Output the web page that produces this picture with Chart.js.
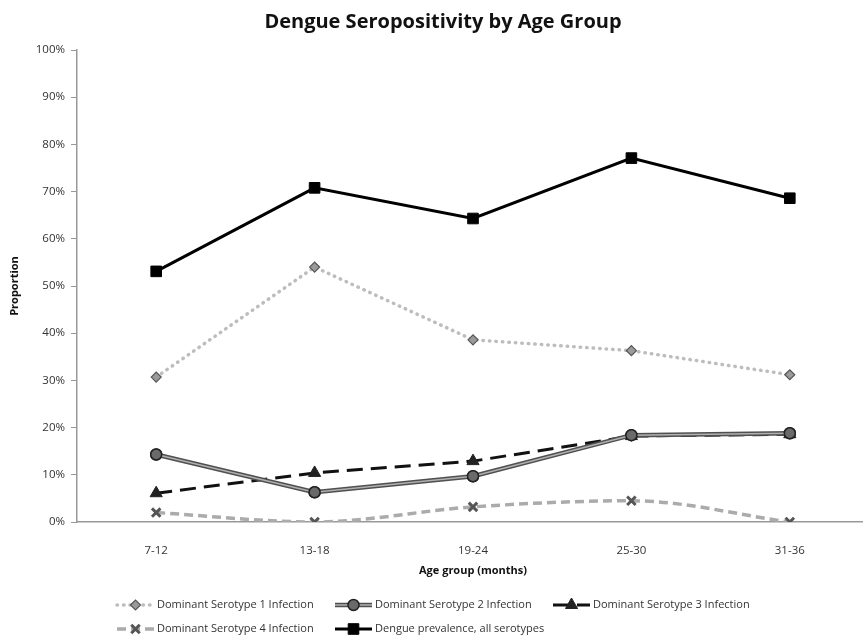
<!DOCTYPE html>
<html>
<head>
<meta charset="utf-8">
<script src="https://cdn.jsdelivr.net/npm/chart.js@4"></script>
<style>
    body { margin: 0; overflow: hidden; background: #fff; }
    #divChartDengue { position: absolute; left: 0; top: 0; width: 878px; height: 639px; }
</style>
</head>
<body>
<div id="divChartDengue"><canvas id="chartDengue"></canvas></div>
<script>
var ageGroups = ['7-12', '13-18', '19-24', '25-30', '31-36'];
var serotype1 = [30.7, 54.0, 38.6, 36.3, 31.2];
var serotype2 = [14.3, 6.3, 9.7, 18.4, 18.8];
var serotype3 = [6.1, 10.4, 12.9, 18.2, 18.6];
var serotype4 = [2.0, 0, 3.2, 4.5, 0];
var prevalence = [53.1, 70.8, 64.3, 77.1, 68.6];
var yTicks = [0, 10, 20, 30, 40, 50, 60, 70, 80, 90, 100];

var fontName = "'Open Sans', sans-serif";

// draws the lighter stripe inside a line (excel "double" line look)
function strokeInner(ctx, pts, color, width) {
    ctx.save();
    ctx.strokeStyle = color;
    ctx.lineWidth = width;
    ctx.setLineDash([]);
    ctx.beginPath();
    for (var i = 0; i < pts.length; i++) {
        if (i == 0) ctx.moveTo(pts[i].x, pts[i].y);
        else ctx.lineTo(pts[i].x, pts[i].y);
    }
    ctx.stroke();
    ctx.restore();
}

var doubleLinePlugin = {
    id: 'doubleLine',
    afterDatasetDraw: function(chart, args) {
        var ds = chart.data.datasets[args.index];
        if (!ds.innerColor) return;
        var meta = chart.getDatasetMeta(args.index);
        strokeInner(chart.ctx, meta.data, ds.innerColor, ds.innerWidth);
        meta.data.forEach(function(p) { p.draw(chart.ctx, chart.chartArea); });
    }
};

// excel style legend: line sample with marker in the middle, fixed columns
var excelLegendPlugin = {
    id: 'excelLegend',
    afterDraw: function(chart) {
        var ctx = chart.ctx;
        var cols = [117, 335, 553];
        var rows = [605, 629];
        var sampleLen = 37;
        chart.data.datasets.forEach(function(ds, i) {
            var x0 = cols[i % 3], y = rows[Math.floor(i / 3)];
            ctx.save();
            ctx.strokeStyle = ds.borderColor;
            ctx.lineWidth = ds.borderWidth;
            ctx.lineCap = ds.borderCapStyle || 'butt';
            ctx.setLineDash(ds.borderDash || []);
            ctx.beginPath();
            ctx.moveTo(x0, y);
            ctx.lineTo(x0 + sampleLen, y);
            ctx.stroke();
            ctx.restore();
            if (ds.innerColor) {
                strokeInner(ctx, [{x: x0, y: y}, {x: x0 + sampleLen, y: y}], ds.innerColor, ds.innerWidth);
            }
            ctx.save();
            ctx.fillStyle = ds.pointBackgroundColor;
            ctx.strokeStyle = ds.pointBorderColor;
            ctx.lineWidth = ds.pointBorderWidth;
            Chart.helpers.drawPoint(ctx, {
                pointStyle: ds.pointStyle,
                radius: ds.pointRadius,
                rotation: 0,
                borderWidth: ds.pointBorderWidth
            }, x0 + sampleLen / 2, y);
            ctx.restore();
            ctx.save();
            ctx.fillStyle = '#333';
            ctx.font = '11px ' + fontName;
            ctx.textBaseline = 'middle';
            ctx.fillText(ds.label, x0 + sampleLen + 3, y);
            ctx.restore();
        });
    }
};

var chartData = {
    labels: ageGroups,
    datasets: [{
        label: 'Dominant Serotype 1 Infection',
        data: serotype1,
        borderColor: '#bdbdbd',
        borderWidth: 3.5,
        borderDash: [0.5, 6],
        borderCapStyle: 'round',
        pointStyle: 'rectRot',
        pointRadius: 5,
        pointBackgroundColor: '#9a9a9a',
        pointBorderColor: '#555',
        pointBorderWidth: 1.2
        },{
        label: 'Dominant Serotype 2 Infection',
        data: serotype2,
        borderColor: '#505050',
        borderWidth: 4.5,
        innerColor: '#b0b0b0',
        innerWidth: 1.5,
        pointStyle: 'circle',
        pointRadius: 5.5,
        pointBackgroundColor: '#6a6a6a',
        pointBorderColor: '#222',
        pointBorderWidth: 1.5
        },{
        label: 'Dominant Serotype 3 Infection',
        data: serotype3,
        borderColor: '#111',
        borderWidth: 3,
        borderDash: [16, 8],
        pointStyle: 'triangle',
        pointRadius: 7,
        pointBackgroundColor: '#222',
        pointBorderColor: '#222',
        pointBorderWidth: 1
        },{
        label: 'Dominant Serotype 4 Infection',
        data: serotype4,
        borderColor: '#ababab',
        borderWidth: 3.5,
        borderDash: [9, 5],
        cubicInterpolationMode: 'monotone',
        pointStyle: 'crossRot',
        pointRadius: 6,
        pointBackgroundColor: '#555',
        pointBorderColor: '#555',
        pointBorderWidth: 3
        },{
        label: 'Dengue prevalence, all serotypes',
        data: prevalence,
        borderColor: '#000',
        borderWidth: 3,
        pointStyle: 'rect',
        pointRadius: 7.5,
        pointBackgroundColor: '#000',
        pointBorderColor: '#000',
        pointBorderWidth: 1
        }
    ]
};

var ctx = document.getElementById('chartDengue');
var myDengueChart = new Chart(ctx, {
    type: 'line',
    data: chartData,
    plugins: [doubleLinePlugin, excelLegendPlugin],
    options: {
        responsive: true,
        maintainAspectRatio: false,
        animation: false,
        layout: { padding: { left: 8, right: 0, top: 0, bottom: 62 } },
        plugins: {
            legend: { display: false },
            tooltip: { enabled: false },
            title: {
                display: true,
                text: 'Dengue Seropositivity by Age Group',
                color: '#111',
                font: { family: fontName, size: 20, weight: 'bold' },
                padding: { top: 10, bottom: 16 }
            }
        },
        scales: {
            x: {
                offset: true,
                grid: { display: false },
                border: { display: true, color: '#999', width: 1.5 },
                ticks: { color: '#333', padding: 14, font: { family: fontName, size: 11.5 } },
                title: {
                    display: true,
                    text: 'Age group (months)',
                    color: '#111',
                    font: { family: fontName, size: 11, weight: 'bold' },
                    padding: 0
                },
                afterFit: function(scale) { scale.height = 55; }
            },
            y: {
                min: 0,
                max: 100,
                afterBuildTicks: function(scale) {
                    scale.ticks = yTicks.map(function(v) { return { value: v }; });
                },
                grid: { drawOnChartArea: false, color: '#999', tickLength: 6 },
                border: { display: true, color: '#999', width: 1.5 },
                ticks: {
                    color: '#333',
                    padding: 6,
                    font: { family: fontName, size: 11.5 },
                    callback: function(v) { return v + '%'; }
                },
                title: {
                    display: true,
                    text: 'Proportion',
                    color: '#111',
                    font: { family: fontName, size: 11, weight: 'bold' },
                    padding: 0
                },
                afterFit: function(scale) { scale.width = 69; }
            }
        }
    }
});
</script>
</body>
</html>
